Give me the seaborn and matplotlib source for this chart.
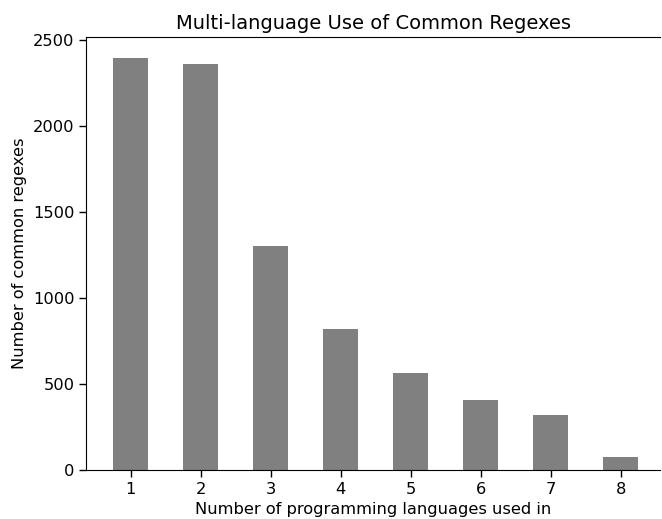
import matplotlib
matplotlib.use("Agg")
import matplotlib.pyplot as plt
import seaborn as sns
import pandas as pd

# nombre de langages -> nombre de regex communes
langages = ["1", "2", "3", "4", "5", "6", "7", "8"]
nb_regex = [2397, 2360, 1302, 820, 564, 407, 320, 76]

df = pd.DataFrame({"langages": langages, "regex": nb_regex})

fig = plt.figure(figsize=(6.62, 5.19), dpi=100)
ax = fig.add_axes([0.130, 0.0944, 0.867, 0.8343])

sns.barplot(data=df, x="langages", y="regex", color="#808080",
            saturation=1, width=0.5, ax=ax)

ax.set_xlim(-0.64, 7.56)
ax.set_ylim(0, 2518)
ax.spines["right"].set_visible(False)
ax.tick_params(labelsize=11.7, length=5, width=1)
ax.set_title("Multi-language Use of Common Regexes", fontsize=14)
ax.set_xlabel("Number of programming languages used in", fontsize=11.7)
ax.set_ylabel("Number of common regexes", fontsize=11.7)

fig.savefig("out.png", dpi=100)
